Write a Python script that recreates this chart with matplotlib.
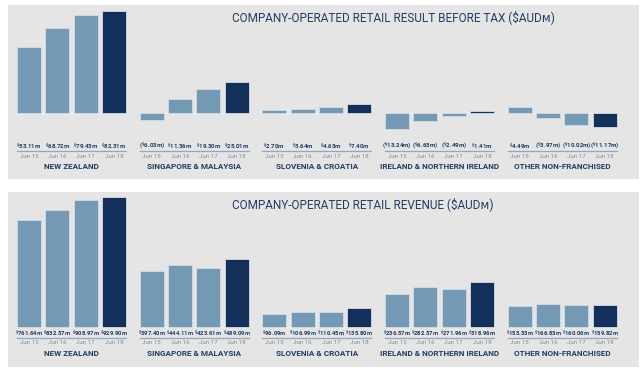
import matplotlib
matplotlib.use("Agg")
import matplotlib.pyplot as plt
from matplotlib.transforms import blended_transform_factory

plt.rcParams['font.family'] = ['Roboto', 'DejaVu Sans']
plt.rcParams['mathtext.default'] = 'regular'

regions = ["NEW ZEALAND", "SINGAPORE & MALAYSIA", "SLOVENIA & CROATIA",
           "IRELAND & NORTHERN IRELAND", "OTHER NON-FRANCHISED"]
years = ["Jun 15", "Jun 16", "Jun 17", "Jun 18"]

# result before tax, $AUD m
result_nz = [53.11, 68.72, 79.43, 82.31]
result_sg = [-6.03, 11.36, 19.30, 25.01]
result_si = [2.70, 3.64, 4.63, 7.40]
result_ie = [-13.24, -6.63, -2.49, 1.41]
result_other = [4.49, -3.97, -10.02, -11.17]

# revenue, $AUD m
revenue_nz = [761.64, 832.37, 908.97, 929.90]
revenue_sg = [397.40, 444.11, 423.61, 489.09]
revenue_si = [96.09, 106.99, 110.45, 135.80]
revenue_ie = [236.57, 282.37, 271.96, 318.96]
revenue_other = [153.33, 166.83, 160.06, 159.82]

light = '#7399b4'
dark = '#13305a'
navy = '#223c66'
bg = '#e5e5e5'

W, H = 644, 373
fig = plt.figure(figsize=(W / 100, H / 100), dpi=100)


def fmt(v):
    s = r"$^{\$}$" + "{:.2f}m".format(abs(v))
    return "(" + s + ")" if v < 0 else s


def panel(top, bottom, ylim, title, data, vsize):
    ax = fig.add_axes([8 / W, (H - bottom) / H, 631 / W, (bottom - top) / H])
    ax.set_xlim(0, 631)
    ax.set_ylim(*ylim)
    ax.axis('off')
    ax.add_patch(plt.Rectangle((0, 0), 1, 1, transform=ax.transAxes,
                               color=bg, zorder=0))
    tr = blended_transform_factory(ax.transData, ax.transAxes)
    ph = bottom - top
    fy = lambda py: (bottom - py) / ph

    for g, vals in enumerate(data):
        left = 9 + g * 122.7
        xs = [left + 12 + i * 28.3 for i in range(4)]
        cols = [light, light, light, dark]
        ax.bar(xs, vals, width=24, color=cols, edgecolor='#d5dce3',
               linewidth=0.6, zorder=3)
        ax.plot([left, left + 109], [0, 0], color='#f2f2f2', lw=0.8, zorder=2)
        for x, v, yr in zip(xs, vals, years):
            ax.text(x, fy(top + 141), fmt(v), transform=tr, ha='center',
                    va='center', fontsize=vsize, fontweight='bold', color=navy)
            ax.text(x, fy(top + 151), yr, transform=tr, ha='center',
                    va='center', fontsize=4.5, color='#8c8c8c')
        ax.plot([left, left + 109], [fy(top + 146)] * 2, transform=tr,
                color='#8da8c2', lw=0.9, clip_on=False)
        ax.text(left + 54.5, fy(top + 161.5), regions[g], transform=tr,
                ha='center', va='center', fontsize=5.9, fontweight='bold',
                color=navy)

    ax.text(224, fy(top + 12), title, transform=tr, ha='left', va='center',
            fontsize=8.5, color=navy)
    return ax


panel(5, 179, (-53.2, 87.1),
      "COMPANY-OPERATED RETAIL RESULT BEFORE TAX ($AUD\u1d0d)",
      [result_nz, result_sg, result_si, result_ie, result_other], 4.4)
panel(192, 367, (-285.7, 964),
      "COMPANY-OPERATED RETAIL REVENUE ($AUD\u1d0d)",
      [revenue_nz, revenue_sg, revenue_si, revenue_ie, revenue_other], 4.2)

fig.savefig("out.png", dpi=100, facecolor='white')
